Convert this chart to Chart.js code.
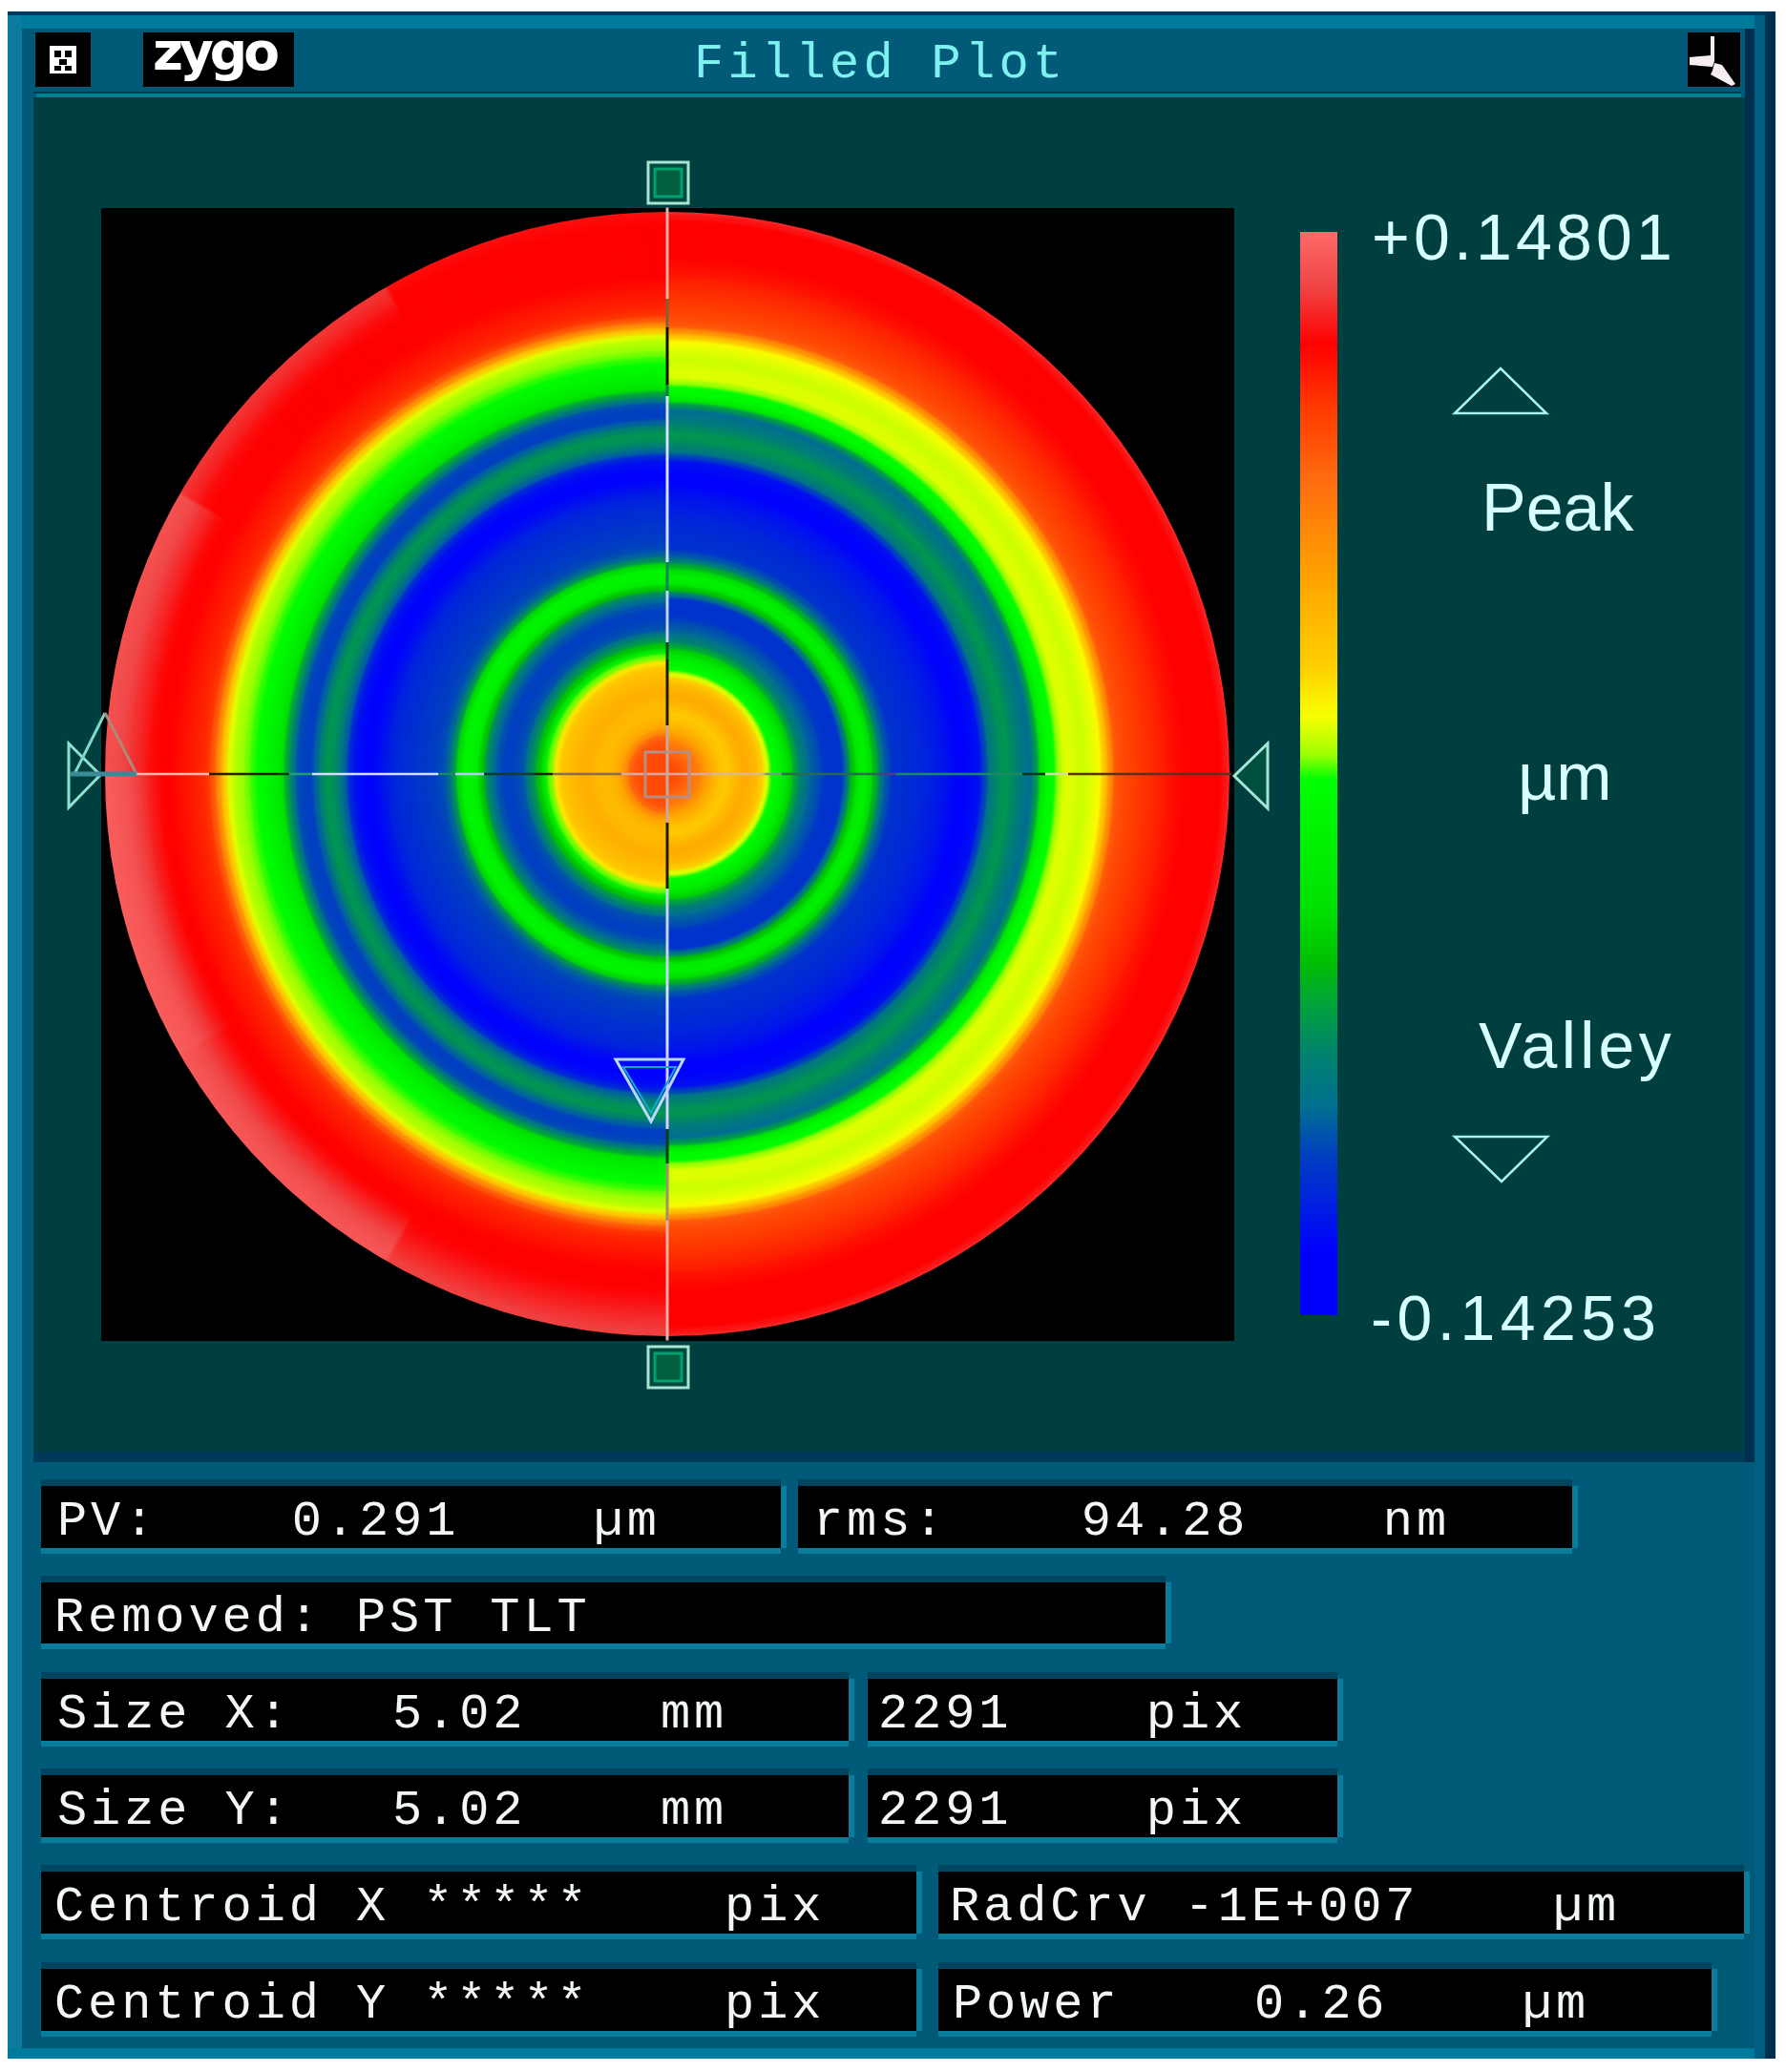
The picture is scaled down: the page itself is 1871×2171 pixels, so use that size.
<!DOCTYPE html>
<html>
<head>
<meta charset="utf-8">
<title>Filled Plot</title>
<script src="https://cdn.jsdelivr.net/npm/chart.js@4"></script>
<style>
  html, body { margin: 0; background: #fff; }
  #page { position: relative; width: 1871px; height: 2171px; overflow: hidden; background: #fff; }
  #page div, #page canvas, #page svg { position: absolute; }
  #surface { filter: blur(1.5px); }
  .txt { white-space: pre; line-height: 0; }
  .mono { font-family: "Liberation Mono", monospace; color: #f2f6f6; }
  .sans { font-family: "Liberation Sans", sans-serif; color: #d8ffff; }
  .field { background: #000; box-shadow: 0 6px 0 #0a7c9c, 0 -7px 0 #004560, 6px 0 0 #0a7c9c; }
</style>
</head>
<body>
<div id="page">
  <!-- window frame -->
  <div style="left:8px;top:12px;width:1852px;height:2145px;background:#005a78"></div>
  <div style="left:8px;top:12px;width:1852px;height:4px;background:#003a60"></div>
  <div style="left:8px;top:16px;width:1852px;height:14px;background:#007a9c"></div>
  <div style="left:8px;top:16px;width:15px;height:2141px;background:#0a7ca0"></div>
  <div style="left:8px;top:2146px;width:1852px;height:11px;background:#007a9c"></div>
  <div style="left:1828px;top:30px;width:10px;height:1502px;background:#002f50"></div>
  <div style="left:1838px;top:16px;width:11px;height:2141px;background:#005f80"></div>
  <div style="left:1849px;top:12px;width:11px;height:2145px;background:#002f50"></div>
  <!-- title bar and plot panel -->
  <div style="left:35px;top:96px;width:1789px;height:2px;background:#003a55"></div>
  <div style="left:38px;top:98px;width:1786px;height:4px;background:#007f90"></div>
  <div style="left:35px;top:102px;width:1793px;height:1419px;background:#003f40"></div>
  <div style="left:35px;top:1521px;width:1793px;height:11px;background:#003a5a"></div>
  <div style="left:37px;top:34px;width:58px;height:57px;background:#000"></div>
  <div style="left:150px;top:34px;width:158px;height:57px;background:#000"></div>
  <div style="left:1768px;top:34px;width:55px;height:57px;background:#000"></div>
  <!-- plot -->
  <div style="left:106px;top:218px;width:1187px;height:1187px;background:#000"></div>
  <div style="left:99px;top:211px;width:1200px;height:1200px;clip-path:circle(589px at 600px 600px)">
    <canvas id="surface" width="1200" height="1200"></canvas>
  </div>
  <div style="left:99px;top:211px;width:1200px;height:1200px"><canvas id="cross" width="1200" height="1200"></canvas></div>
  <div style="left:1362px;top:243px;width:39px;height:1135px"><canvas id="colorbar" width="39" height="1135"></canvas></div>

  <svg width="1871" height="2171" style="left:0;top:0" fill="none">
    <!-- window icons -->
    <rect x="52" y="48" width="28" height="29" fill="#fff"/>
    <path d="M57 53h7v7h-7zM68 53h7v7h-7zM62 62h8v6h-8zM57 69h7v5h-7zM68 69h7v5h-7z" fill="#000"/>
    <path transform="translate(-10 0)" d="M1802 38h4v26l-2 6-24-2v-8l22-2zM1806 66l8 2 14 20-4 2-22-12 2-4z" fill="#f6eeee"/>
    <!-- top and bottom handles -->
    <rect x="679" y="170" width="42" height="43" fill="#00493c" stroke="#a6e4d4" stroke-width="3"/>
    <rect x="686" y="177" width="28" height="29" fill="#00603f" stroke="#00a070" stroke-width="3"/>
    <rect x="679" y="1411" width="42" height="43" fill="#00493c" stroke="#a6e4d4" stroke-width="3"/>
    <rect x="686" y="1418" width="28" height="29" fill="#00603f" stroke="#00a070" stroke-width="3"/>
    <!-- side handles -->
    <path d="M1328 779V847L1293 813Z" fill="#00503f" stroke="#a6e4d4" stroke-width="3"/>
    <path d="M72 779V846L105 812Z" fill="#003f40" stroke="#90e0d0" stroke-width="3"/>
    <path d="M78 811L110 747" stroke="#80d8c8" stroke-width="3"/>
    <path d="M110 747L143 811" stroke="#b08878" stroke-width="3"/>
    <path d="M74 811H143" stroke="#3a8a98" stroke-width="5"/>
    <!-- centre box -->
    <rect x="676" y="788" width="46" height="47" stroke="#b88e84" stroke-width="3"/>
    <!-- valley marker on the surface -->
    <path d="M645 1110H716L682 1175Z" stroke="#b8d8ff" stroke-width="3"/>
    <path d="M653 1118H708L682 1166Z" stroke="#14a8d0" stroke-width="2"/>
    <!-- peak and valley arrows -->
    <path d="M1572 386L1524 433H1620Z" stroke="#a8f4f4" stroke-width="2.5"/>
    <path d="M1524 1191H1621L1573 1238Z" stroke="#a8f4f4" stroke-width="2.5"/>
  </svg>
</div>

<script>
const rightHalfHeights = [
  0.095, 0.094, 0.090, 0.085, 0.078, 0.073, 0.062, 0.052, 0.045, 0.038,
  0.035, 0.040, 0.046, 0.050, 0.048, 0.044, 0.035, 0.015, -0.003, -0.010,
  -0.022, -0.038, -0.060, -0.075, -0.085, -0.092, -0.096, -0.103, -0.105, -0.105,
  -0.105, -0.080, -0.045, -0.020, -0.015, -0.030, -0.055, -0.080, -0.095, -0.105,
  -0.106, -0.107, -0.108, -0.109, -0.110, -0.112, -0.114, -0.116, -0.118, -0.121,
  -0.124, -0.125, -0.124, -0.122, -0.120, -0.100, -0.080, -0.072, -0.066, -0.065,
  -0.070, -0.077, -0.082, -0.087, -0.065, -0.022, -0.005, -0.002, 0.008, 0.015,
  0.015, 0.014, 0.013, 0.014, 0.016, 0.019, 0.038, 0.065, 0.090, 0.094,
  0.097, 0.099, 0.101, 0.103, 0.105, 0.107, 0.109, 0.112, 0.114, 0.116,
  0.118, 0.118, 0.118, 0.118, 0.118, 0.118, 0.118, 0.122, 0.128, 0.130
];
const leftHalfHeights = [
  0.095, 0.095, 0.095, 0.095, 0.094, 0.092, 0.085, 0.065, 0.052, 0.046,
  0.042, 0.042, 0.044, 0.047, 0.048, 0.046, 0.043, 0.040, 0.036, 0.025,
  0.006, -0.020, -0.045, -0.065, -0.080, -0.095, -0.098, -0.100, -0.100, -0.095,
  -0.087, -0.070, -0.045, -0.018, -0.010, -0.010, -0.035, -0.068, -0.090, -0.097,
  -0.100, -0.101, -0.103, -0.104, -0.106, -0.107, -0.108, -0.110, -0.112, -0.117,
  -0.121, -0.124, -0.125, -0.123, -0.120, -0.110, -0.090, -0.075, -0.067, -0.065,
  -0.072, -0.090, -0.100, -0.100, -0.097, -0.080, -0.060, -0.030, -0.020, -0.012,
  -0.006, -0.002, 0.003, 0.006, 0.008, 0.010, 0.015, 0.035, 0.065, 0.090,
  0.103, 0.107, 0.109, 0.111, 0.113, 0.115, 0.117
];
// outer 13 rings of the left half, by 30 degree sector going clockwise from 6 o'clock
const leftRimSector1 = [0.118, 0.118, 0.118, 0.119, 0.120, 0.122, 0.124, 0.126, 0.128, 0.130, 0.132, 0.132, 0.132];
const leftRimSector2 = [0.118, 0.118, 0.120, 0.123, 0.126, 0.129, 0.132, 0.135, 0.137, 0.139, 0.140, 0.140, 0.140];
const leftRimSector3 = [0.118, 0.119, 0.122, 0.125, 0.129, 0.132, 0.135, 0.138, 0.140, 0.141, 0.142, 0.143, 0.143];
const leftRimSector4 = [0.118, 0.118, 0.119, 0.121, 0.124, 0.127, 0.129, 0.132, 0.134, 0.136, 0.137, 0.138, 0.138];
const leftRimSector5 = [0.118, 0.118, 0.118, 0.118, 0.118, 0.119, 0.120, 0.122, 0.125, 0.127, 0.129, 0.130, 0.130];
const leftRimSector6 = [0.118, 0.118, 0.118, 0.118, 0.118, 0.118, 0.118, 0.118, 0.118, 0.119, 0.120, 0.122, 0.122];
const leftRimSectors = [leftRimSector1, leftRimSector2, leftRimSector3, leftRimSector4, leftRimSector5, leftRimSector6];

// colour bar
const peakValue = 0.14801;
const valleyValue = -0.14253;
const barValues = [0.1480, 0.1334, 0.1180, 0.1001, 0.0822, 0.0566, 0.0310, 0.0180, 0.0080, 0.0011,
  -0.0342, -0.0473, -0.0603, -0.0734, -0.0865, -0.0995, -0.1126, -0.1256, -0.1425];
const barColors = ['#ff6a6a', '#f04545', '#ff0000', '#ff3c00', '#ff6a10', '#ffa000', '#ffd000', '#f8ff00', '#a0ff00', '#00ff00',
  '#00e000', '#00c000', '#00a040', '#008070', '#007090', '#0040c0', '#0020e0', '#0000ff', '#0000ff'];

// crosshair, in units of the plot half width, and its XOR looking colour per stretch
const crossHorizontalX = [-0.998, -0.80, -0.68, -0.66, -0.62, -0.40, -0.37, -0.32, -0.23, -0.20, -0.08, 0.08, 0.17, 0.20, 0.37, 0.40, 0.62, 0.66, 0.70, 0.985];
const crossHorizontalColors = ['#ecb8ac', '#2a1c08', '#1c3a10', '#20a070', '#d4dcff', '#1a8a60', '#b8c8ff', '#143c30', '#2a1c08', '#8a6a50', '#d8a8a0', '#d8b890', '#70a080', '#2a6a50', '#4a3a88', '#1a8a60', '#103820', '#d8d8a0', '#5a3020'];
const crossVerticalY = [0.989, 0.83, 0.78, 0.68, 0.66, 0.37, 0.32, 0.23, 0.20, 0.085, -0.085, -0.20, -0.37, -0.48, -0.62, -0.68, -0.78, -0.989];
const crossVerticalColors = ['#e8b0a8', '#806040', '#101000', '#108040', '#d8e0ff', '#108060', '#c8d0ff', '#104830', '#201a08', '#c8a8a0', '#201a08', '#c8d0ff', '#d8e0ff', '#d8d0ff', '#103c18', '#a09070', '#e8b0a8'];

// readouts
const titleText = 'Filled Plot';
const logoText = 'zygo';
const peakLabel = '+0.14801';
const valleyLabel = '-0.14253';
const unitLabel = '\u00b5m';
const readoutTexts = [
  'PV:    0.291    \u00b5m',
  'rms:    94.28    nm',
  'Removed: PST TLT',
  'Size X:   5.02    mm',
  '2291    pix',
  'Size Y:   5.02    mm',
  '2291    pix',
  'Centroid X *****    pix',
  'RadCrv -1E+007    \u00b5m',
  'Centroid Y *****    pix',
  'Power    0.26    \u00b5m'
];
// box left, top, right, bottom, text left
const readoutBoxes = [
  [43, 1557, 818, 1622, 60],
  [836, 1557, 1647, 1622, 852],
  [43, 1658, 1221, 1722, 57],
  [43, 1759, 889, 1824, 60],
  [909, 1759, 1401, 1824, 920],
  [43, 1860, 889, 1925, 60],
  [909, 1860, 1401, 1925, 920],
  [43, 1961, 960, 2026, 57],
  [983, 1961, 1827, 2026, 995],
  [43, 2063, 960, 2128, 57],
  [983, 2063, 1793, 2128, 998]
];

const page = document.getElementById('page');

function addText(text, x, baseline, cls, size, spacing, offset) {
  const el = document.createElement('div');
  el.className = 'txt ' + cls;
  el.textContent = text;
  el.style.left = x + 'px';
  el.style.top = (baseline - size * offset) + 'px';
  el.style.fontSize = size + 'px';
  el.style.letterSpacing = spacing + 'px';
  page.appendChild(el);
  return el;
}

readoutBoxes.forEach((box, i) => {
  const el = document.createElement('div');
  el.className = 'field';
  el.style.left = box[0] + 'px';
  el.style.top = box[1] + 'px';
  el.style.width = (box[2] - box[0]) + 'px';
  el.style.height = (box[3] - box[1]) + 'px';
  page.appendChild(el);
  addText(readoutTexts[i], box[4], box[1] + 52, 'mono', 52, 3.9, 0.2665);
});

addText(titleText, 727, 82, 'mono', 52, 4.3, 0.2665).style.color = '#7ff0f0';
const logo = addText(logoText, 160, 73, 'sans', 55, -4, 0.346);
logo.style.fontFamily = '"DejaVu Sans"';
logo.style.fontWeight = 'bold';
logo.style.color = '#fff';
addText(peakLabel, 1437, 272, 'sans', 68, 4.2, 0.3465);
addText('Peak', 1552, 556, 'sans', 70, 0, 0.3465);
addText(unitLabel, 1590, 838, 'sans', 70, 0, 0.3465);
addText('Valley', 1549, 1119, 'sans', 68, 4.3, 0.3465);
addText(valleyLabel, 1436, 1404, 'sans', 66, 5.5, 0.3465);

function hexToRgb(hex) {
  return [1, 3, 5].map(p => parseInt(hex.substr(p, 2), 16));
}

// same lookup the colour bar shows
function colorFor(value) {
  if (value >= barValues[0]) return barColors[0];
  for (let i = 1; i < barValues.length; i++) {
    if (value >= barValues[i]) {
      const t = (value - barValues[i]) / (barValues[i - 1] - barValues[i]);
      const a = hexToRgb(barColors[i]);
      const b = hexToRgb(barColors[i - 1]);
      return `rgb(${a.map((c, k) => Math.round(c + (b[k] - c) * t)).join(',')})`;
    }
  }
  return barColors[barColors.length - 1];
}

Chart.defaults.animation = false;
Chart.defaults.responsive = false;
Chart.defaults.events = [];

// doughnut draws dataset 0 as the outer ring, so go from the rim to the centre
const ringDatasets = rightHalfHeights.map((h, i) => {
  let data, colors;
  if (i < leftHalfHeights.length) {
    data = [1, 1];
    colors = [colorFor(h), colorFor(leftHalfHeights[i])];
  } else {
    // rim rings: right half, then the six left sectors
    const rimIndex = i - leftHalfHeights.length;
    data = [6, 1, 1, 1, 1, 1, 1];
    colors = [colorFor(h), ...leftRimSectors.map(s => colorFor(s[rimIndex]))];
  }
  return { data, backgroundColor: colors, borderColor: colors, borderWidth: 1 };
}).reverse();

new Chart(document.getElementById('surface'), {
  type: 'doughnut',
  data: { datasets: ringDatasets },
  options: {
    cutout: 0,
    layout: { padding: 0 },
    plugins: { legend: { display: false }, tooltip: { enabled: false } }
  }
});

function crossSegment(colors) {
  return { borderColor: ctx => colors[ctx.p0DataIndex] };
}

new Chart(document.getElementById('cross'), {
  type: 'scatter',
  data: {
    datasets: [
      {
        data: crossHorizontalX.map(x => ({ x, y: 0 })),
        showLine: true, pointRadius: 0, borderWidth: 2.5,
        segment: crossSegment(crossHorizontalColors)
      },
      {
        data: crossVerticalY.map(y => ({ x: 0, y })),
        showLine: true, pointRadius: 0, borderWidth: 3,
        segment: crossSegment(crossVerticalColors)
      }
    ]
  },
  options: {
    layout: { padding: 0 },
    scales: {
      x: { type: 'linear', min: -1, max: 1, display: false },
      y: { type: 'linear', min: -1, max: 1, display: false }
    },
    plugins: { legend: { display: false }, tooltip: { enabled: false } }
  }
});

new Chart(document.getElementById('colorbar'), {
  type: 'bar',
  data: {
    labels: ['\u00b5m'],
    datasets: [{
      data: [[valleyValue, peakValue]],
      categoryPercentage: 1,
      barPercentage: 1,
      backgroundColor: ctx => {
        const y = ctx.chart.scales.y;
        const top = y ? y.getPixelForValue(peakValue) : NaN;
        const bottom = y ? y.getPixelForValue(valleyValue) : NaN;
        // first pass happens before the layout has run
        if (!Number.isFinite(top) || !Number.isFinite(bottom) || top === bottom) return barColors[0];
        const grad = ctx.chart.ctx.createLinearGradient(0, top, 0, bottom);
        barValues.forEach((v, i) => {
          const stop = (y.getPixelForValue(v) - top) / (bottom - top);
          grad.addColorStop(Math.min(1, Math.max(0, stop)), barColors[i]);
        });
        return grad;
      }
    }]
  },
  options: {
    layout: { padding: 0 },
    scales: {
      x: { display: false },
      y: { min: valleyValue, max: peakValue, display: false }
    },
    plugins: { legend: { display: false }, tooltip: { enabled: false } }
  }
});
</script>
</body>
</html>
